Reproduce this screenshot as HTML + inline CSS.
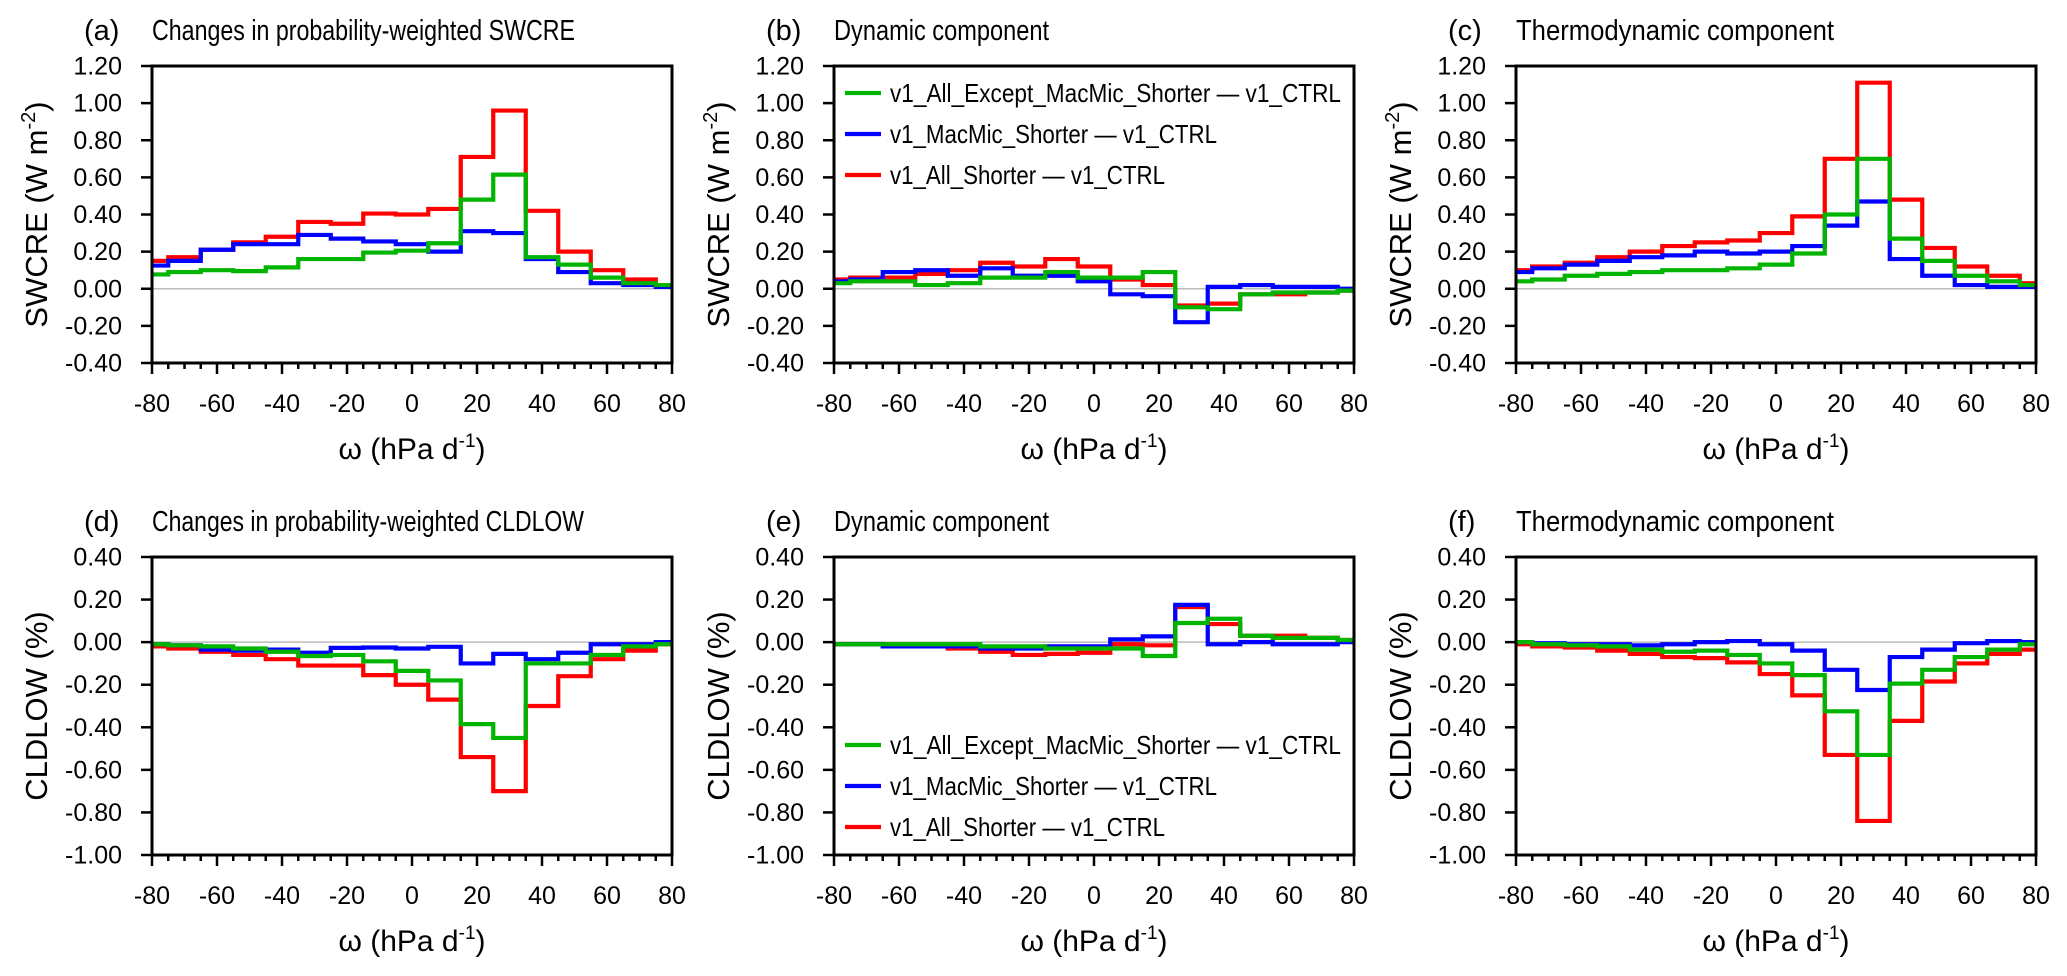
<!DOCTYPE html>
<html><head><meta charset="utf-8"><style>
html,body{margin:0;padding:0;background:#fff;}
svg text{font-family:"Liberation Sans",sans-serif;fill:#000;}
</style></head><body>
<svg id="fig" width="2067" height="971" viewBox="0 0 2067 971" xmlns="http://www.w3.org/2000/svg"></svg>
<script>
const omegaBins = [-80,-70,-60,-50,-40,-30,-20,-10,0,10,20,30,40,50,60,70,80];
const xTicks = [-80,-60,-40,-20,0,20,40,60,80];
const yTicksTop = [-0.4,-0.2,0,0.2,0.4,0.6,0.8,1.0,1.2];
const yTicksBot = [-1.0,-0.8,-0.6,-0.4,-0.2,0,0.2,0.4];
const seriesNames = ["v1_All_Shorter \u2014 v1_CTRL","v1_MacMic_Shorter \u2014 v1_CTRL","v1_All_Except_MacMic_Shorter \u2014 v1_CTRL"];
// panel a
const aRed   = [0.15,0.17,0.21,0.25,0.28,0.36,0.35,0.405,0.40,0.43,0.71,0.96,0.42,0.20,0.10,0.05,0.02];
const aBlue  = [0.125,0.15,0.21,0.24,0.24,0.29,0.27,0.255,0.24,0.20,0.31,0.30,0.16,0.09,0.03,0.02,0.01];
const aGreen = [0.077,0.09,0.10,0.095,0.115,0.16,0.16,0.195,0.205,0.245,0.48,0.615,0.17,0.13,0.06,0.03,0.02];
// panel b
const bRed   = [0.05,0.06,0.06,0.08,0.10,0.14,0.12,0.16,0.12,0.05,0.02,-0.09,-0.08,-0.03,-0.03,-0.02,-0.01];
const bBlue  = [0.04,0.05,0.09,0.10,0.07,0.11,0.07,0.07,0.04,-0.03,-0.04,-0.18,0.01,0.02,0.01,0.01,0.0];
const bGreen = [0.03,0.04,0.04,0.02,0.03,0.06,0.06,0.09,0.06,0.06,0.09,-0.10,-0.11,-0.03,-0.02,-0.02,-0.01];
// panel c
const cRed   = [0.10,0.12,0.14,0.17,0.20,0.23,0.25,0.26,0.30,0.39,0.70,1.11,0.48,0.22,0.12,0.07,0.03];
const cBlue  = [0.09,0.11,0.13,0.15,0.17,0.18,0.20,0.19,0.20,0.23,0.34,0.47,0.16,0.07,0.02,0.01,0.01];
const cGreen = [0.04,0.05,0.07,0.08,0.09,0.10,0.10,0.11,0.13,0.19,0.40,0.70,0.27,0.15,0.07,0.04,0.02];
// panel d
const dRed   = [-0.02,-0.03,-0.045,-0.06,-0.08,-0.11,-0.11,-0.155,-0.20,-0.27,-0.54,-0.70,-0.30,-0.16,-0.08,-0.04,-0.01];
const dBlue  = [-0.01,-0.015,-0.035,-0.04,-0.035,-0.05,-0.027,-0.025,-0.03,-0.022,-0.10,-0.055,-0.08,-0.05,-0.01,-0.01,0.0];
const dGreen = [-0.01,-0.015,-0.02,-0.03,-0.045,-0.065,-0.06,-0.09,-0.135,-0.18,-0.385,-0.45,-0.10,-0.10,-0.06,-0.02,-0.01];
// panel e
const eRed   = [-0.01,-0.01,-0.02,-0.02,-0.03,-0.045,-0.06,-0.055,-0.05,-0.01,-0.015,0.165,0.085,0.03,0.03,0.02,0.01];
const eBlue  = [-0.01,-0.01,-0.02,-0.02,-0.02,-0.03,-0.03,-0.02,-0.02,0.013,0.027,0.175,-0.01,0.0,-0.01,-0.01,0.0];
const eGreen = [-0.01,-0.01,-0.01,-0.01,-0.01,-0.02,-0.02,-0.03,-0.03,-0.03,-0.065,0.09,0.11,0.03,0.02,0.02,0.01];
// panel f
const fRed   = [-0.01,-0.02,-0.025,-0.04,-0.055,-0.07,-0.075,-0.095,-0.15,-0.25,-0.53,-0.84,-0.37,-0.185,-0.10,-0.055,-0.035];
const fBlue  = [0.0,-0.005,-0.01,-0.01,-0.015,-0.01,0.0,0.005,-0.01,-0.04,-0.13,-0.225,-0.07,-0.035,-0.005,0.005,0.0];
const fGreen = [0.0,-0.01,-0.015,-0.02,-0.035,-0.045,-0.04,-0.06,-0.10,-0.155,-0.325,-0.53,-0.195,-0.13,-0.07,-0.035,-0.01];

const NS="http://www.w3.org/2000/svg";
const svg=document.getElementById('fig');
function mk(tag,attrs,parent){const e=document.createElementNS(NS,tag);for(const k in attrs)e.setAttribute(k,attrs[k]);(parent||svg).appendChild(e);return e;}

const colors=["#ff0000","#0000ff","#00b400"];
const keys=["red","blue","green"];
const legendWidths=[275,327,451];
const panels=[
 {id:"a",left:152,top:66,bottom:363,ymin:-0.4,ymax:1.2,yt:yTicksTop,data:[aRed,aBlue,aGreen],title:"Changes in probability-weighted SWCRE",tw:423,unit:true,legend:false},
 {id:"b",left:834,top:66,bottom:363,ymin:-0.4,ymax:1.2,yt:yTicksTop,data:[bRed,bBlue,bGreen],title:"Dynamic component",tw:215,unit:true,legend:true,legY:[93,134,175]},
 {id:"c",left:1516,top:66,bottom:363,ymin:-0.4,ymax:1.2,yt:yTicksTop,data:[cRed,cBlue,cGreen],title:"Thermodynamic component",tw:318,unit:true,legend:false},
 {id:"d",left:152,top:557,bottom:855,ymin:-1.0,ymax:0.4,yt:yTicksBot,data:[dRed,dBlue,dGreen],title:"Changes in probability-weighted CLDLOW",tw:432,unit:false,legend:false},
 {id:"e",left:834,top:557,bottom:855,ymin:-1.0,ymax:0.4,yt:yTicksBot,data:[eRed,eBlue,eGreen],title:"Dynamic component",tw:215,unit:false,legend:true,legY:[745,786,827]},
 {id:"f",left:1516,top:557,bottom:855,ymin:-1.0,ymax:0.4,yt:yTicksBot,data:[fRed,fBlue,fGreen],title:"Thermodynamic component",tw:318,unit:false,legend:false}
];
const W=520;
panels.forEach(p=>{
  const g=mk('g',{});
  
  
  const xs=v=>p.left+(v+80)/160*W;
  const ys=v=>p.bottom-(v-p.ymin)/(p.ymax-p.ymin)*(p.bottom-p.top);
  const tl=mk('text',{x:p.left-68,y:p.top-26,'font-size':29},g);
  tl.textContent='('+p.id+')';
  
  
  const tt=mk('text',{x:p.left,y:p.top-26,'font-size':29,textLength:p.tw,lengthAdjust:'spacingAndGlyphs'},g);
  tt.textContent=p.title;
  
  
  const z=mk('line',{x1:p.left,x2:p.left+W,y1:ys(0),y2:ys(0),stroke:'#bbbbbb','stroke-width':1.5},g);
  
  
  p.data.forEach((arr,si)=>{
    let d='';
    arr.forEach((v,i)=>{
      const c=omegaBins[i];
      const l=xs(Math.max(c-5,-80)), r=xs(Math.min(c+5,80));
      d+=(i===0?'M'+l+' '+ys(v):' V'+ys(v))+' H'+r;
    });
    const path=mk('path',{d:d,fill:'none',stroke:colors[si],'stroke-width':4.2,'stroke-linejoin':'miter'},g);
    
    
  });
  const fr=mk('rect',{x:p.left,y:p.top,width:W,height:p.bottom-p.top,fill:'none',stroke:'#000','stroke-width':3},g);
  
  
  p.yt.forEach(v=>{
    mk('line',{x1:p.left-11,x2:p.left,y1:ys(v),y2:ys(v),stroke:'#000','stroke-width':2.5},g);
    const t=mk('text',{x:p.left-30,y:ys(v)+8.5,'font-size':25,'text-anchor':'end'},g);
    t.textContent=v.toFixed(2);
    
    
  });
  for(let v=-80;v<=80;v+=5){
    const maj=(v%20===0);
    mk('line',{x1:xs(v),x2:xs(v),y1:p.bottom,y2:p.bottom+(maj?11:6),stroke:'#000','stroke-width':2.5},g);
  }
  xTicks.forEach(v=>{
    const t=mk('text',{x:xs(v),y:p.bottom+49,'font-size':25,'text-anchor':'middle'},g);
    t.textContent=String(v);
    
    
  });
  const xt=mk('text',{x:p.left+W/2,y:p.bottom+96,'font-size':30,'text-anchor':'middle'},g);
  xt.innerHTML='\u03c9 (hPa d<tspan font-size="19" dy="-12">-1</tspan><tspan dy="12">)</tspan>';
  
  
  const cy=(p.top+p.bottom)/2, cx=p.left-105;
  const yt=mk('text',{x:cx,y:cy,'font-size':31,'text-anchor':'middle',transform:'rotate(-90 '+cx+' '+cy+')'},g);
  if(p.unit) yt.innerHTML='SWCRE (W m<tspan font-size="20" dy="-12">-2</tspan><tspan dy="12">)</tspan>';
  else yt.textContent='CLDLOW (%)';
  
  
  if(p.legend){
    const order=[2,1,0];
    order.forEach((si,k)=>{
      const y=p.legY[k];
      const ln=mk('line',{x1:p.left+11,x2:p.left+47,y1:y,y2:y,stroke:colors[si],'stroke-width':4.2},g);
      
      
      const t=mk('text',{x:p.left+56,y:y+9,'font-size':26,textLength:legendWidths[si],lengthAdjust:'spacingAndGlyphs'},g);
      t.textContent=seriesNames[si];
      
      
    });
  }
});
</script>
</body></html>
